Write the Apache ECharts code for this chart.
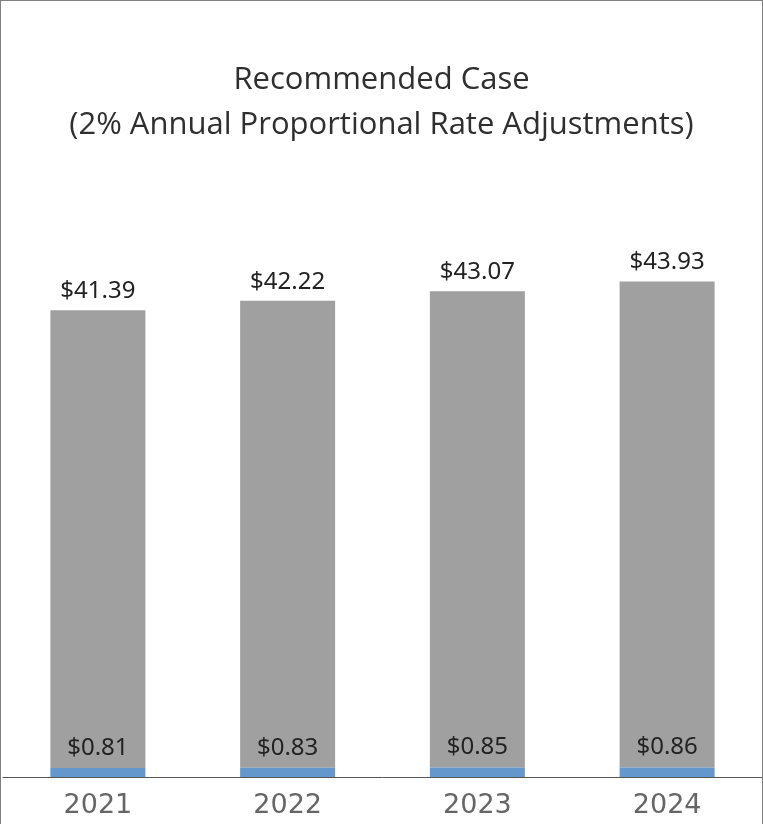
<!DOCTYPE html>
<html>
<head>
<meta charset="utf-8">
<script src="https://cdn.jsdelivr.net/npm/echarts@6/dist/echarts.min.js"></script>
<style>
  html, body { margin: 0; padding: 0; background: #fff; }
  #container { position: absolute; left: 0; top: 0; width: 761px; height: 823px;
    border-left: 1px solid #7f7f7f; border-top: 1px solid #7f7f7f; border-right: 1px solid #7f7f7f; }
</style>
</head>
<body>
<div id="container"></div>
<script>
var years = ['2021', '2022', '2023', '2024'];
var baseValues = [0.81, 0.83, 0.85, 0.86];
var rateValues = [41.39, 42.22, 43.07, 43.93];

var dom = document.getElementById("container");
var myChart = echarts.init(dom);

function dollar(p) {
    return '$' + p.value.toFixed(2);
}

var option = {
    animation: false,
    title: {
        text: 'Recommended Case\n(2% Annual Proportional Rate Adjustments)',
        left: 'center',
        top: 52,
        textStyle: {
            fontFamily: 'Open Sans',
            fontSize: 31,
            fontWeight: 'normal',
            color: '#2f2f2f',
            lineHeight: 45
        }
    },
    grid: {
        left: 2,
        right: 0,
        top: 223,
        bottom: 47
    },
    xAxis: {
        type: 'category',
        data: years,
        axisLine: { lineStyle: { color: '#555', width: 1 } },
        axisTick: { show: false },
        axisLabel: {
            fontFamily: 'DejaVu Sans',
            fontSize: 27,
            color: '#666',
            margin: 15
        }
    },
    yAxis: {
        type: 'value',
        min: 0,
        max: 50,
        show: false,
        splitLine: { show: false }
    },
    series: [{
        name: 'base',
        type: 'bar',
        stack: 'total',
        barWidth: 95,
        data: baseValues,
        itemStyle: { color: '#6497cc' },
        label: {
            show: true,
            position: 'top',
            distance: 8,
            formatter: dollar,
            fontFamily: 'Noto Sans',
            fontSize: 24,
            color: '#222'
        },
        z: 3
    }, {
        name: 'rate',
        type: 'bar',
        stack: 'total',
        barWidth: 95,
        data: rateValues,
        itemStyle: { color: '#a0a0a0' },
        label: {
            show: true,
            position: 'top',
            distance: 7,
            formatter: dollar,
            fontFamily: 'Noto Sans',
            fontSize: 24,
            color: '#222'
        },
        z: 2
    }]
};

if (option && typeof option === "object") {
    myChart.setOption(option, true);
}
</script>
</body>
</html>
